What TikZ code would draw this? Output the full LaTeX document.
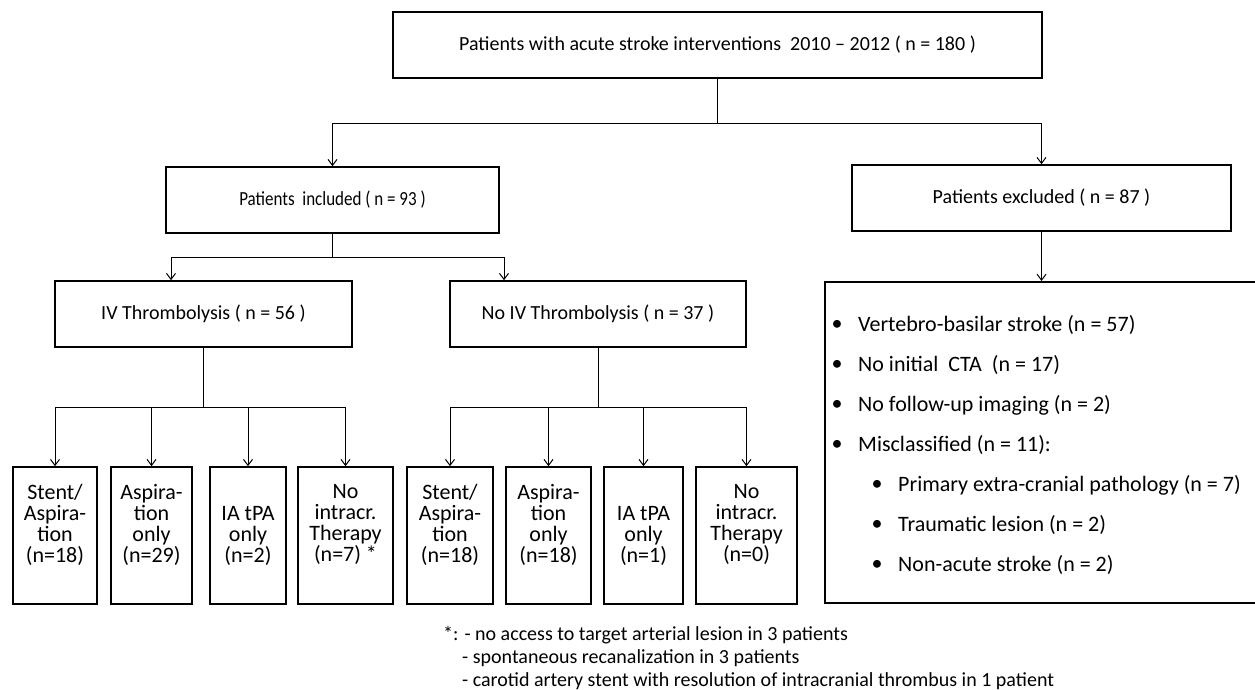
\documentclass[tikz,border=0pt]{standalone}
\usepackage{fontspec}
\setmainfont{Carlito}
\usetikzlibrary{arrows.meta}

\begin{document}
\begin{tikzpicture}[x=1pt,y=-1pt]
  \tikzset{box/.style = {shape=rectangle,draw,line width=1.6pt,inner sep=2pt,align=center}}
  \tikzset{head/.style = {font=\fontsize{20}{24}\selectfont,minimum height=66}}
  \tikzset{arm/.style = {font=\fontsize{22}{21}\selectfont,minimum height=137}}
  \tikzset{four/.style = {text depth=25pt}}
  \tikzset{note/.style = {anchor=west,inner sep=0pt,font=\fontsize{20}{23}\selectfont}}
  \tikzset{edge/.style = {line width=1pt,-{Straight Barb[length=6pt,width=9pt]}}}
  \tikzset{line/.style = {line width=1pt}}
  \useasboundingbox (0,0) rectangle (1255,689);

  % top levels
  \node[box,head,minimum width=649] (all) at (717.5,45) {Patients with acute stroke interventions\ \ 2010 – 2012 ( n = 180 )};
  \node[box,head,minimum width=333] (incl) at (332.5,200) {\addfontfeature{FakeStretch=0.85}Patients\ \ included ( n = 93 )};
  \node[box,head,minimum width=379] (excl) at (1041.5,198) {Patients excluded ( n = 87 )};
  \node[box,head,minimum width=297] (IV) at (203.5,314) {IV Thrombolysis ( n = 56 )};
  \node[box,head,minimum width=296] (noIV) at (598,314) {No IV Thrombolysis ( n = 37 )};

  % treatment arms
  \node[box,arm,four,minimum width=84] (B1) at (55,535.5) {Stent/\\Aspira-\\tion\\(n=18)};
  \node[box,arm,four,minimum width=81] (B2) at (151.5,535.5) {Aspira-\\tion\\only\\(n=29)};
  \node[box,arm,minimum width=76] (B3) at (248,535.5) {IA tPA\\only\\(n=2)};
  \node[box,arm,four,minimum width=95] (B4) at (345.5,535.5) {No\\intracr.\\Therapy\\(n=7) *};
  \node[box,arm,four,minimum width=86] (B5) at (450,535.5) {Stent/\\Aspira-\\tion\\(n=18)};
  \node[box,arm,four,minimum width=85] (B6) at (548.5,535.5) {Aspira-\\tion\\only\\(n=18)};
  \node[box,arm,minimum width=79] (B7) at (643.5,535.5) {IA tPA\\only\\(n=1)};
  \node[box,arm,four,minimum width=101] (B8) at (746.5,535.5) {No\\intracr.\\Therapy\\(n=0)};

  % exclusion reasons
  \node[box,minimum width=445,minimum height=321,anchor=north west] (list) at (824,281) {};
  \foreach \x/\y/\t in {837/325/Vertebro-basilar stroke (n = 57),
                        837/365/No initial\ \ CTA\ \ (n = 17),
                        837/405/No follow-up imaging (n = 2),
                        837/445/Misclassified (n = 11):,
                        877/485/Primary extra-cranial pathology (n = 7),
                        877/525/Traumatic lesion (n = 2),
                        877/565/Non-acute stroke (n = 2)}
    {\node[font=\fontsize{22}{24}\selectfont] at (\x,\y) {•};
     \node[anchor=west,inner sep=0pt,font=\fontsize{22}{24}\selectfont] at (\x+21,\y) {\t};}

  % footnote
  \node[note] (fn1) at (443,635) {*: - no access to target arterial lesion in 3 patients};
  \node[note] (fn2) at (462,658) {- spontaneous recanalization in 3 patients};
  \node[note] (fn3) at (462,681) {- carotid artery stent with resolution of intracranial thrombus in 1 patient};

  % connectors
  \coordinate (s1) at (717.5,123);
  \coordinate (s2) at (332.5,257);
  \coordinate (s3) at (203.5,407);
  \coordinate (s4) at (598,407);
  \draw[line] (all) -- (s1);
  \draw[edge] (s1) -| (incl);
  \draw[edge] (s1) -| (excl);
  \draw[line] (incl) -- (s2);
  \draw[edge] (s2) -| ([xshift=-32.5pt]IV.north);
  \draw[edge] (s2) -| ([xshift=-94pt]noIV.north);
  \draw[line] (IV) -- (s3);
  \draw[line] (noIV) -- (s4);
  \foreach \to in {B1,B2,B3,B4}
    \draw[edge] (s3) -| (\to);
  \foreach \to in {B5,B6,B7,B8}
    \draw[edge] (s4) -| (\to);
  \draw[edge] (excl) -- (excl |- list.north);
\end{tikzpicture}
\end{document}
